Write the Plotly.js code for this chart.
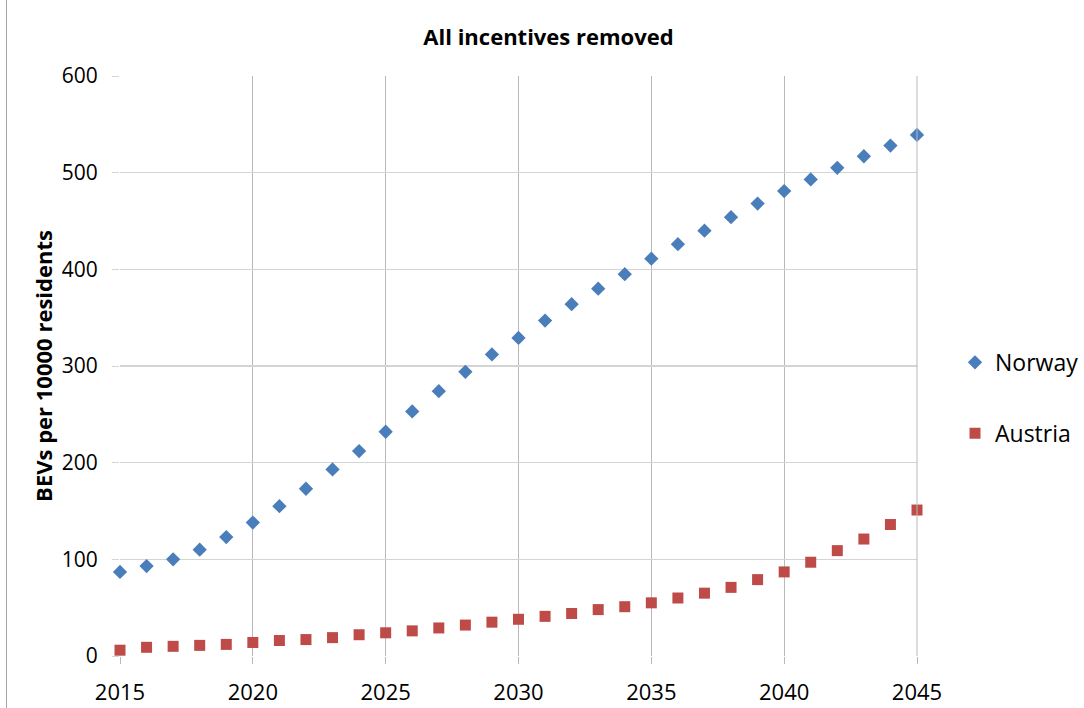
<!DOCTYPE html>
<html>
<head>
<meta charset="utf-8">
<script src="https://cdn.plot.ly/plotly-3.0.1.min.js"></script>
<style>
html,body{margin:0;padding:0;background:#fff;}
#wrap{position:relative;width:1084px;height:708px;}
#frame{position:absolute;left:6px;top:0;width:0;height:708px;border-left:1.5px solid #a6a6a6;pointer-events:none;}
</style>
</head>
<body>
<div id="wrap"><div id="chart"></div><div id="frame"></div></div>
<script>
var years = [2015,2016,2017,2018,2019,2020,2021,2022,2023,2024,2025,2026,2027,2028,2029,2030,2031,2032,2033,2034,2035,2036,2037,2038,2039,2040,2041,2042,2043,2044,2045];
var norway = [87,93,100,110,123,138,155,173,193,212,232,253,274,294,312,329,347,364,380,395,411,426,440,454,468,481,493,505,517,528,539];
var austria = [6,9,10,11,12,14,16,17,19,22,24,26,29,32,35,38,41,44,48,51,55,60,65,71,79,87,97,109,121,136,151];
var xTicks = [2015,2020,2025,2030,2035,2040,2045];
var yTicks = [0,100,200,300,400,500,600];

var font = '"Open Sans", "Noto Sans", sans-serif';

var traces = [
  {x: years, y: norway, name: 'Norway', type: 'scatter', mode: 'markers', legendgroup: 'n',
   marker: {symbol: 'diamond', size: 11, color: '#4A7EBB'}, cliponaxis: false},
  {x: years, y: austria, name: 'Austria', type: 'scatter', mode: 'markers', legendgroup: 'a',
   marker: {symbol: 'square', size: 11, color: '#BE4B48'}, cliponaxis: false}
];

var layout = {
  width: 1084, height: 708,
  margin: {l: 120, r: 167, t: 76, b: 52},
  paper_bgcolor: '#ffffff', plot_bgcolor: '#ffffff',
  font: {family: font, color: '#000'},
  title: {text: '<b>All incentives removed</b>', font: {family: font, size: 22, color: '#000'},
          x: 0.506, xanchor: 'center', y: 0.948, yanchor: 'middle', automargin: false},
  xaxis: {range: [2015, 2045], tickvals: xTicks, ticktext: xTicks.map(String),
          showgrid: true, gridcolor: '#b9b9b9', gridwidth: 1,
          ticks: 'outside', ticklen: 7, tickcolor: '#b9b9b9', ticklabelstandoff: 10,
          showline: false, zeroline: false, automargin: false,
          tickfont: {family: font, size: 22, color: '#000'}},
  yaxis: {range: [0, 600], tickvals: yTicks, ticktext: yTicks.map(String),
          showgrid: true, gridcolor: '#d4d4d4', gridwidth: 1.5,
          ticks: 'outside', ticklen: 7, tickcolor: '#d4d4d4', ticklabelstandoff: 10,
          showline: false, zeroline: false, automargin: false,
          tickfont: {family: font, size: 21, color: '#000'},
          title: {text: '<b>BEVs per 10000 residents</b>', font: {family: font, size: 22, color: '#000'}, standoff: 3}},
  showlegend: true,
  legend: {xref: 'container', yref: 'container', x: 0.881, xanchor: 'left', y: 0.438, yanchor: 'middle',
           traceorder: 'grouped', tracegroupgap: 38,
           font: {family: font, size: 23, color: '#000'}, bgcolor: 'rgba(0,0,0,0)'},
  shapes: [
    {type: 'line', xref: 'paper', yref: 'paper', x0: 1, x1: 1, y0: 0, y1: 1, line: {color: '#b9b9b9', width: 1}}
  ]
};

Plotly.newPlot('chart', traces, layout, {displayModeBar: false, staticPlot: true});
</script>
</body>
</html>
